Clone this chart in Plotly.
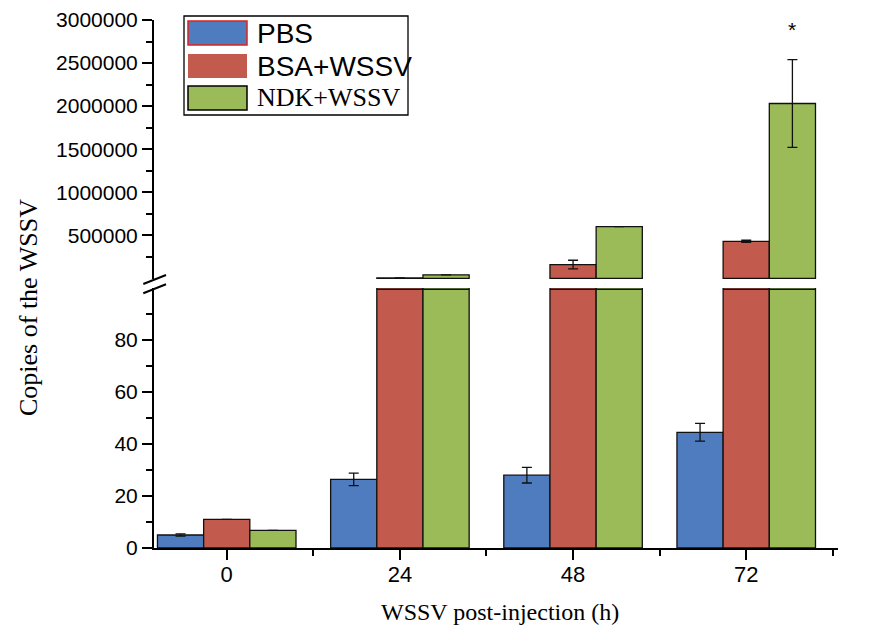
import plotly.graph_objects as go

# ---------------- data ----------------
categories = ["0", "24", "48", "72"]
series_names = ["PBS", "BSA+WSSV", "NDK+WSSV"]
pbs = [5.0, 26.4, 28.0, 44.5]
pbs_err = [0.4, 2.4, 3.0, 3.4]
bsa = [11.0, 5000, 160000, 430000]
bsa_err = [0, 0, 50000, 12000]
ndk = [6.8, 40000, 600000, 2030000]
ndk_err = [0, 0, 0, 510000]
lower_ticks = [0, 20, 40, 60, 80]
upper_ticks = [500000, 1000000, 1500000, 2000000, 2500000, 3000000]
signif_label = "*"

values = [pbs, bsa, ndk]
errors = [pbs_err, bsa_err, ndk_err]
colors = ["#4F7CBF", "#C25B4D", "#9BBB59"]

LOWER_MAX = 100
UPPER_MAX = 3000000

OFF = 8  # page body margin
W, H = 872 - OFF, 634 - OFF
ml, mt = 154 - OFF, 20 - OFF
plot_right = 838 - OFF
plot_bottom = 548 - OFF
mr, mb = W - plot_right, H - plot_bottom
plot_w = W - ml - mr
plot_h = H - mt - mb


def py(pix):  # screen pixel y -> paper
    return (plot_bottom - (pix - OFF)) / plot_h


def px(pix):  # screen pixel x -> paper
    return (pix - OFF - ml) / plot_w


xs = list(range(len(categories)))
bw = 0.8 / 3
offsets = [-0.4 + k * bw for k in range(3)]

fig = go.Figure()
line_col = "#111111"
for k in range(3):
    fig.add_trace(go.Bar(
        x=xs, y=values[k], width=bw, offset=offsets[k],
        marker=dict(color=colors[k], line=dict(color=line_col, width=1.3)),
        error_y=dict(type="data", array=errors[k], color=line_col, thickness=1.3, width=5),
        xaxis="x", yaxis="y", showlegend=False, name=series_names[k]))
    up = [v if v > LOWER_MAX else None for v in values[k]]
    fig.add_trace(go.Bar(
        x=xs, y=up, width=bw, offset=offsets[k],
        marker=dict(color=colors[k], line=dict(color=line_col, width=1.3)),
        error_y=dict(type="data", array=errors[k], color=line_col, thickness=1.3, width=5),
        xaxis="x2", yaxis="y2", showlegend=False, name=series_names[k]))

shapes = []
for k in range(3):
    for i, v in enumerate(values[k]):
        if v > LOWER_MAX:
            shapes.append(dict(type="line", xref="x", yref="y",
                               x0=xs[i] + offsets[k], x1=xs[i] + offsets[k] + bw,
                               y0=LOWER_MAX * 0.995, y1=LOWER_MAX * 0.995,
                               line=dict(color=line_col, width=1.5)))

lower_top_pix = 288
upper_bot_pix = 279
for (a, b) in [((143.3, 284), (166, 275)), ((143.3, 293.3), (166, 284.3))]:
    shapes.append(dict(type="line", xref="paper", yref="paper",
                       x0=px(a[0]), y0=py(a[1]), x1=px(b[0]), y1=py(b[1]),
                       line=dict(color="black", width=2)))

shapes.append(dict(type="rect", xref="paper", yref="paper",
                   x0=px(184), x1=px(408), y0=py(115), y1=py(16),
                   line=dict(color="black", width=1.3), fillcolor="white"))
legend_rows = [33, 66, 98]
sw_lines = [dict(color="#E0201B", width=1.5), dict(color=colors[1], width=0),
            dict(color="black", width=1.5)]
annotations = []
legend_fonts = [("Liberation Sans, Arial", 28), ("Liberation Sans, Arial", 28),
                ("Liberation Serif, Times New Roman", 26)]
for k in range(3):
    cy = legend_rows[k]
    shapes.append(dict(type="rect", xref="paper", yref="paper",
                       x0=px(188), x1=px(247), y0=py(cy + 12), y1=py(cy - 12),
                       fillcolor=colors[k], line=sw_lines[k]))
    annotations.append(dict(xref="paper", yref="paper", x=px(255), y=py(cy),
                            xanchor="left", yanchor="middle", showarrow=False,
                            text=series_names[k],
                            font=dict(family=legend_fonts[k][0], size=legend_fonts[k][1],
                                      color="black")))

annotations.append(dict(xref="x2", yref="y2", x=xs[3] + offsets[2] + bw / 2,
                        y=ndk[3] + ndk_err[3], yanchor="bottom", yshift=17,
                        showarrow=False, text=signif_label,
                        font=dict(family="Liberation Sans, Arial", size=21, color="black")))

annotations.append(dict(xref="paper", yref="paper", x=px(28), y=py(308),
                        textangle=-90, showarrow=False, text="Copies of the WSSV",
                        xanchor="center", yanchor="middle",
                        font=dict(family="Liberation Serif, Times New Roman", size=26, color="black")))
annotations.append(dict(xref="paper", yref="paper", x=px(500), y=py(612),
                        showarrow=False, text="WSSV post-injection (h)",
                        xanchor="center", yanchor="middle",
                        font=dict(family="Liberation Serif, Times New Roman", size=24, color="black")))

tickfont = dict(family="Liberation Sans, Arial", size=21, color="black")

fig.update_layout(
    width=W, height=H,
    margin=dict(l=ml, r=mr, t=mt, b=mb, autoexpand=False),
    plot_bgcolor="white", paper_bgcolor="white",
    barmode="overlay",
    showlegend=False,
    shapes=shapes,
    annotations=annotations,
    xaxis=dict(range=[-0.42, 3.53], tickmode="array", tickvals=xs, ticktext=categories,
               showline=True, linecolor="black", linewidth=2, automargin=False,
               ticks="outside", ticklen=10, tickwidth=2, tickcolor="black",
               ticklabelstandoff=-4,
               minor=dict(tickvals=[x + 0.5 for x in xs], ticks="outside", ticklen=6,
                          tickwidth=2, tickcolor="black"),
               tickfont=dict(family="Liberation Sans Narrow, Arial Narrow, Liberation Sans", size=22, color="black"),
               showgrid=False, zeroline=False, anchor="y"),
    xaxis2=dict(matches="x", showticklabels=False, showline=False, ticks="", automargin=False,
                showgrid=False, zeroline=False, anchor="y2"),
    yaxis=dict(domain=[0, py(lower_top_pix)], range=[0, LOWER_MAX], automargin=False,
               tickmode="array", tickvals=lower_ticks, ticktext=[str(t) for t in lower_ticks],
               showline=True, linecolor="black", linewidth=2,
               ticks="outside", ticklen=10, tickwidth=2, tickcolor="black",
               minor=dict(tickvals=[t + 10 for t in lower_ticks], ticks="outside",
                          ticklen=6, tickwidth=2, tickcolor="black"),
               tickfont=tickfont, showgrid=False, zeroline=False, anchor="x"),
    yaxis2=dict(domain=[py(upper_bot_pix), 1], range=[-8000, UPPER_MAX], automargin=False,
                tickmode="array", tickvals=upper_ticks, ticktext=[str(t) for t in upper_ticks],
                showline=True, linecolor="black", linewidth=2,
                ticks="outside", ticklen=10, tickwidth=2, tickcolor="black",
                minor=dict(tickvals=[t - 250000 for t in upper_ticks], ticks="outside",
                           ticklen=6, tickwidth=2, tickcolor="black"),
                tickfont=tickfont, showgrid=False, zeroline=False, anchor="x2"),
)

fig.write_html("out.html")
